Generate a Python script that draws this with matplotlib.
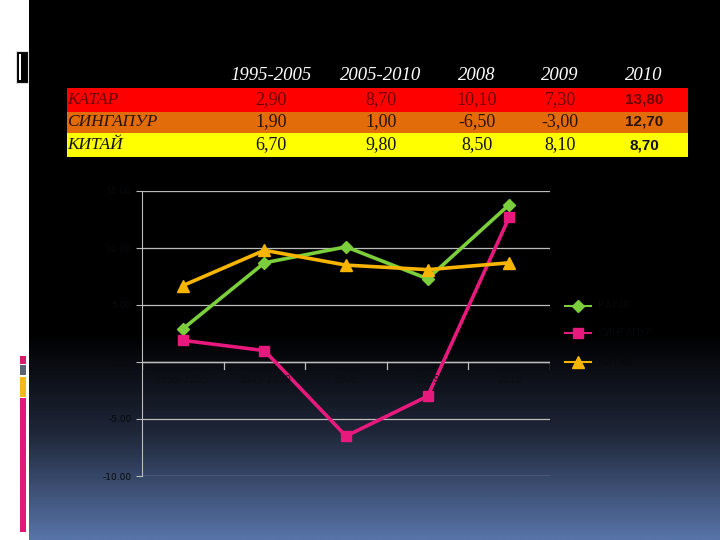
import numpy as np
import matplotlib
matplotlib.use("Agg")
import matplotlib.pyplot as plt
from matplotlib.patches import Rectangle
from matplotlib.lines import Line2D
from matplotlib.colors import LinearSegmentedColormap

# data
periods = ["1995-2005", "2005-2010", "2008", "2009", "2010"]
countries = ["КАТАР", "СИНГАПУР", "КИТАЙ"]
qatar = [2.9, 8.7, 10.1, 7.3, 13.8]
singapore = [1.9, 1.0, -6.5, -3.0, 12.7]
china = [6.7, 9.8, 8.5, 8.1, 8.7]
yticks = [-10, -5, 0, 5, 10, 15]

series = [qatar, singapore, china]
line_colors = ["#7ccf3c", "#e8197d", "#f7b500"]
markers = ["D", "s", "^"]
msizes = [6, 7, 8]
row_colors = ["#ff0000", "#e36c0a", "#ffff00"]
row_text = ["#6a0000", "#2a1200", "#111111"]

fig = plt.figure(figsize=(7.2, 5.4), dpi=100)
fig.patch.set_facecolor("white")

# slide background in pixel coordinates
bg = fig.add_axes([0, 0, 1, 1])
bg.set_xlim(0, 720)
bg.set_ylim(540, 0)
bg.axis("off")

grad_cmap = LinearSegmentedColormap.from_list(
    "slide", [(0, "#000000"), (0.62, "#000000"), (0.8, "#1e2537"), (1.0, "#5773a7")])
grad = np.linspace(0, 1, 300).reshape(-1, 1)
bg.imshow(grad, cmap=grad_cmap, extent=[29, 720, 540, 0], aspect="auto", zorder=0)

# left strip decorations
bg.add_patch(Rectangle((16, 51), 12, 32, facecolor="black", edgecolor="#dddddd", lw=0.8, zorder=2))
bg.add_patch(Rectangle((19, 54), 2, 26, facecolor="white", edgecolor="none", zorder=3))
bg.add_patch(Rectangle((20, 356), 6, 8, facecolor="#d81b6a", edgecolor="none", zorder=2))
bg.add_patch(Rectangle((20, 365), 6, 10, facecolor="#5a6470", edgecolor="none", zorder=2))
bg.add_patch(Rectangle((20, 377), 6, 20, facecolor="#f2b81c", edgecolor="none", zorder=2))
bg.add_patch(Rectangle((20, 398), 6, 134, facecolor="#e0187a", edgecolor="none", zorder=2))

# table
col_x = [271, 381, 477, 560, 644]
row_y = [100, 122, 145]
row_top = [88, 112, 133]
row_h = [24, 21, 24]
for i in range(3):
    bg.add_patch(Rectangle((67, row_top[i]), 621, row_h[i], facecolor=row_colors[i],
                           edgecolor="none", zorder=2))
for j, p in enumerate(periods):
    bg.text(col_x[j], 76, p, color="white", fontsize=13.5, family="Liberation Serif",
            style="italic", ha="center", va="center", zorder=4)
for i, name in enumerate(countries):
    bg.text(67, row_y[i], name, color=row_text[i], fontsize=12.5, family="Liberation Serif",
            style="italic", ha="left", va="center", zorder=4)
    for j in range(5):
        val = ("%.2f" % series[i][j]).replace(".", ",")
        if j == 4:
            bg.text(col_x[j], row_y[i], val, color=row_text[i], fontsize=11,
                    family="Liberation Sans", weight="bold", ha="center", va="center", zorder=4)
        else:
            bg.text(col_x[j], row_y[i], val, color=row_text[i], fontsize=13,
                    family="Liberation Serif", ha="center", va="center", zorder=4)

# line chart
ax = fig.add_axes([142 / 720, 1 - 476 / 540, 408 / 720, 285 / 540])
ax.patch.set_alpha(0)
x = np.arange(len(periods))
for s, c, m, ms in zip(series, line_colors, markers, msizes):
    ax.plot(x, s, color=c, lw=2.6, marker=m, markersize=ms, markerfacecolor=c,
            markeredgecolor=c, zorder=3)
ax.set_xlim(-0.5, 4.5)
ax.set_ylim(-10, 15)
ax.set_yticks(yticks)
ax.set_yticklabels(["%.2f" % v for v in yticks])
ax.grid(axis="y", color="#bcbcbc", lw=0.9)
ax.set_axisbelow(True)
for sp in ["top", "right", "bottom"]:
    ax.spines[sp].set_visible(False)
ax.spines["left"].set_color("#bcbcbc")
ax.tick_params(axis="y", colors="#bcbcbc", labelcolor="#080a0e", labelsize=6.5, length=4)
ax.set_xticks([])
# category axis at zero
ax.axhline(0, color="#bcbcbc", lw=1.0, zorder=1)
for b in np.arange(-0.5, 5.0, 1.0):
    ax.plot([b, b], [0, -0.6], color="#bcbcbc", lw=0.9, zorder=1)
for xi, p in zip(x, periods):
    ax.text(xi, -1.6, p, color="#0c0e14", fontsize=7, ha="center", va="center")

# legend
leg_y = [306, 333, 362]
for i in range(3):
    lx = 578 / 720
    ly = 1 - leg_y[i] / 540
    fig.add_artist(Line2D([lx - 0.018, lx + 0.018], [ly, ly], transform=fig.transFigure,
                          color=line_colors[i], lw=1.5, marker=None))
    fig.add_artist(Line2D([lx], [ly], transform=fig.transFigure, color=line_colors[i],
                          marker=markers[i], markersize=msizes[i], linestyle="none"))
    fig.text(lx + 0.028, ly, countries[i], color="#07080b", fontsize=7, va="center", ha="left")

fig.savefig("out.png", dpi=100)
